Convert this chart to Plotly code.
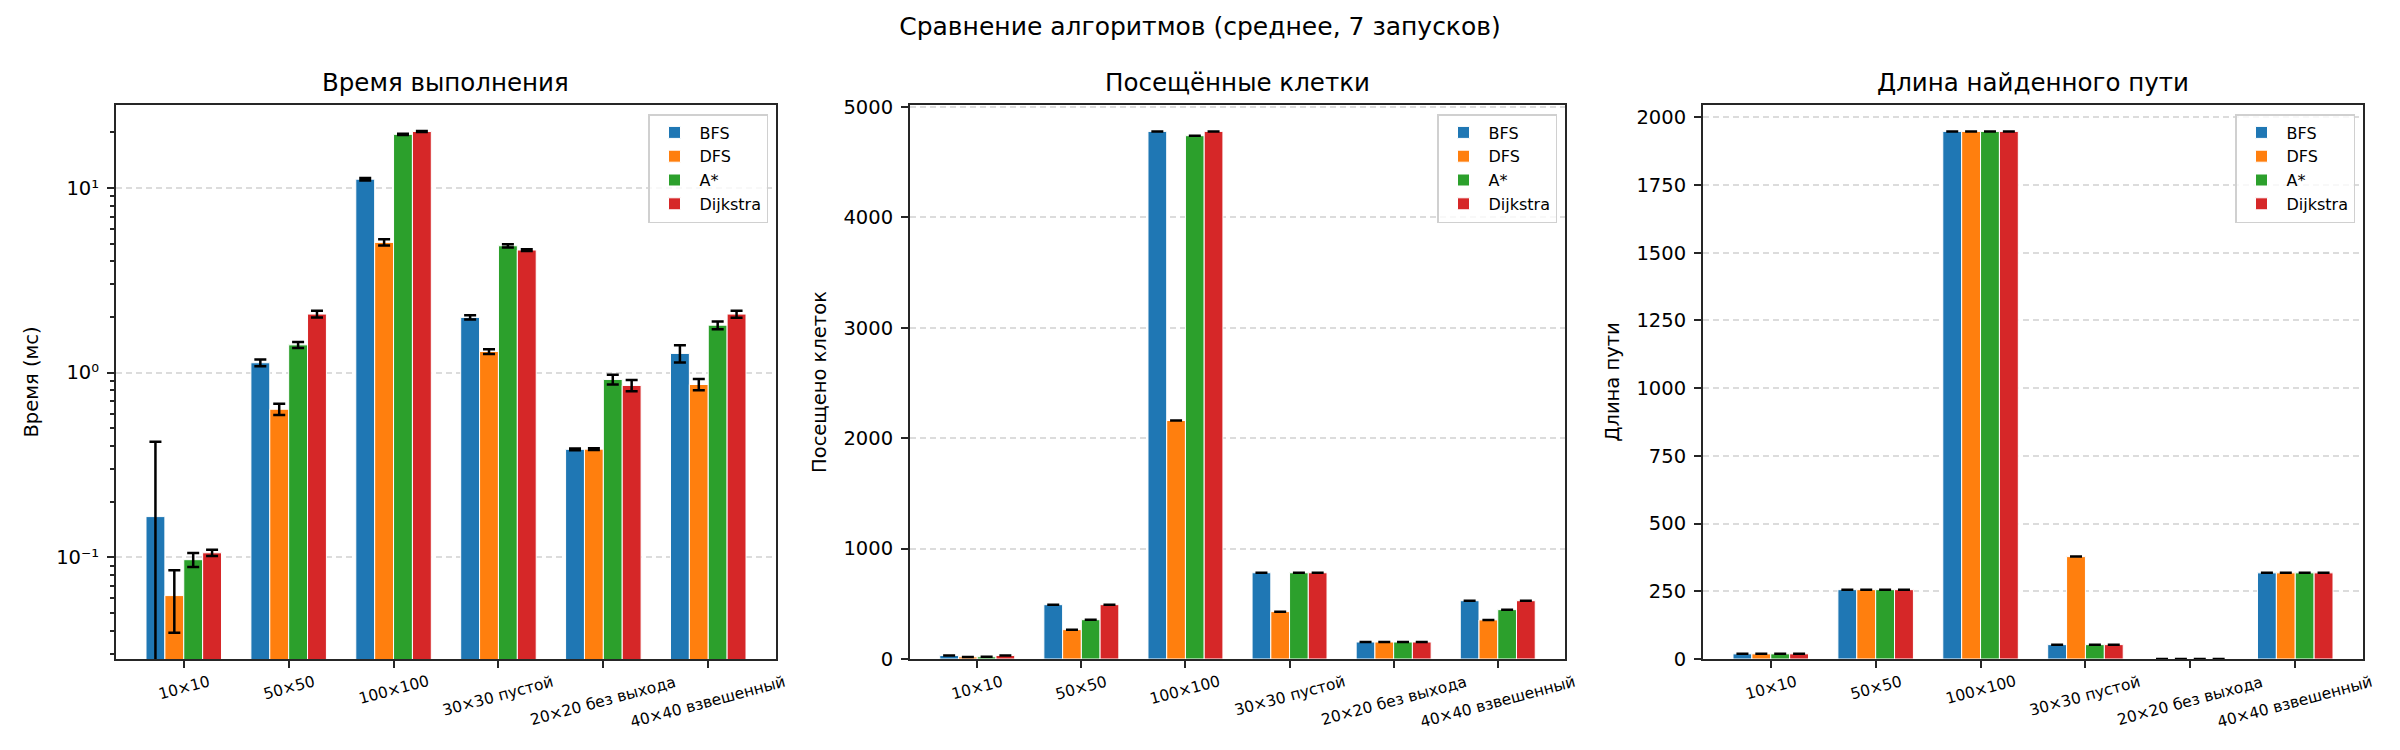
import plotly.graph_objects as go
from plotly.subplots import make_subplots

# Scenario names and algorithms
categories = ["10×10", "50×50", "100×100", "30×30 пустой", "20×20 без выхода", "40×40 взвешенный"]
algorithms = ["BFS", "DFS", "A*", "Dijkstra"]
colors = ["#1f77b4", "#ff7f0e", "#2ca02c", "#d62728"]

# Execution time, ms (mean and std over 7 runs)
time_bfs = [0.166, 1.13, 11.15, 1.99, 0.384, 1.27]
time_dfs = [0.062, 0.633, 5.07, 1.30, 0.385, 0.862]
time_astar = [0.097, 1.413, 19.5, 4.86, 0.918, 1.806]
time_dijkstra = [0.1057, 2.074, 20.2, 4.61, 0.852, 2.074]
time_std_bfs = [0.256, 0.048, 0.18, 0.053, 0.004, 0.135]
time_std_dfs = [0.023, 0.044, 0.2, 0.038, 0.004, 0.06]
time_std_astar = [0.0085, 0.053, 0.15, 0.1, 0.056, 0.087]
time_std_dijkstra = [0.004, 0.088, 0.15, 0.05, 0.06, 0.09]

# Visited cells
visited_bfs = [32, 492, 4779, 781, 154, 528]
visited_dfs = [19, 266, 2160, 429, 154, 354]
visited_astar = [20, 356, 4740, 781, 154, 447]
visited_dijkstra = [32, 492, 4779, 781, 154, 528]

# Found path length
path_bfs = [19, 256, 1948, 53, 0, 318]
path_dfs = [19, 256, 1948, 378, 0, 318]
path_astar = [19, 256, 1948, 53, 0, 318]
path_dijkstra = [19, 256, 1948, 53, 0, 318]

# Log axis ticks for the time panel
time_tickvals = [0.1, 1, 10]
time_ticktext = ["10⁻¹", "10⁰", "10¹"]
time_minor = [0.03, 0.04, 0.05, 0.06, 0.07, 0.08, 0.09,
              0.2, 0.3, 0.4, 0.5, 0.6, 0.7, 0.8, 0.9,
              2, 3, 4, 5, 6, 7, 8, 9, 20]

FONT = "DejaVu Sans"
AXIS_COLOR = "#262626"

# the page body has an 8px margin, so the figure is a bit smaller than the window
W, H, PAD = 2384, 734, 8


def fx(px):
    return (px - PAD) / W


def fy(py):
    return 1 - (py - PAD) / H


panels = [
    ("Время выполнения", "Время (мс)",
     [time_bfs, time_dfs, time_astar, time_dijkstra],
     [time_std_bfs, time_std_dfs, time_std_astar, time_std_dijkstra]),
    ("Посещённые клетки", "Посещено клеток",
     [visited_bfs, visited_dfs, visited_astar, visited_dijkstra],
     [[0] * 6] * 4),
    ("Длина найденного пути", "Длина пути",
     [path_bfs, path_dfs, path_astar, path_dijkstra],
     [[0] * 6] * 4),
]

fig = make_subplots(rows=1, cols=3)

x_pixels = [(116, 776), (910, 1565), (1703, 2363)]
annotations = []

for p, (title, ylabel, series, errors) in enumerate(panels):
    col = p + 1
    legend_name = "legend" if p == 0 else "legend%d" % col
    for a, name in enumerate(algorithms):
        fig.add_trace(
            go.Bar(x=categories, y=series[a], name=name,
                   marker=dict(color=colors[a], line=dict(color="white", width=1)),
                   error_y=dict(type="data", array=errors[a], visible=True,
                                color="black", thickness=2.5, width=6),
                   legend=legend_name),
            row=1, col=col)

    xref = "x" if p == 0 else "x%d" % col
    yref = "y" if p == 0 else "y%d" % col

    # Subplot title
    annotations.append(dict(text=title, xref=xref + " domain", yref=yref + " domain",
                            x=0.5, y=1, xanchor="center", yanchor="bottom", yshift=6,
                            showarrow=False, font=dict(size=24.5, color="black", family=FONT)))
    # Rotated category labels, centred under the ticks
    for c in categories:
        annotations.append(dict(text=c, xref=xref, yref=yref + " domain",
                                x=c, y=0, xanchor="center", yanchor="top", yshift=-11,
                                textangle=-15, showarrow=False,
                                font=dict(size=15.5, color="black", family=FONT)))

    left, right = x_pixels[p]
    fig.update_xaxes(domain=[fx(left), fx(right)], type="category", range=[-0.646, 5.646],
                     showline=True, linecolor=AXIS_COLOR, linewidth=2, mirror=True,
                     ticks="outside", ticklen=7, tickwidth=2, tickcolor=AXIS_COLOR,
                     showticklabels=False, showgrid=False, zeroline=False, automargin=False,
                     row=1, col=col)
    fig.update_yaxes(domain=[fy(659), fy(105)],
                     showline=True, linecolor=AXIS_COLOR, linewidth=2, mirror=True,
                     ticks="outside", ticklen=7, tickwidth=2, tickcolor=AXIS_COLOR,
                     ticklabelstandoff=4, automargin=False,
                     tickfont=dict(size=19.5, color="black", family=FONT),
                     showgrid=True, gridcolor="#dcdcdc", gridwidth=1.5, griddash="6px,4px",
                     zeroline=False,
                     title=dict(text=ylabel, font=dict(size=19.5, color="black", family=FONT),
                                standoff=12),
                     row=1, col=col)

    fig.layout[legend_name] = dict(
        x=fx(right - 8), y=fy(114), xanchor="right", yanchor="top",
        bgcolor="rgba(255,255,255,0.8)", bordercolor="#d0d0d0", borderwidth=1.5,
        font=dict(size=16, color="black", family=FONT),
        itemwidth=40, tracegroupgap=2)

# Panel specific y axes
fig.update_yaxes(type="log", range=[-1.551, 1.449], tickmode="array",
                 tickvals=time_tickvals, ticktext=time_ticktext,
                 minor=dict(ticks="outside", ticklen=4, tickwidth=1.5, tickcolor=AXIS_COLOR,
                            tickmode="array", tickvals=time_minor, showgrid=False),
                 row=1, col=1)
top2 = max(max(s) for s in panels[1][2]) * 1.05
top3 = max(max(s) for s in panels[2][2]) * 1.05
fig.update_yaxes(range=[0, top2], dtick=1000, row=1, col=2)
fig.update_yaxes(range=[0, top3], dtick=250, row=1, col=3)

fig.update_layout(
    width=W, height=H,
    margin=dict(l=0, r=0, t=0, b=0),
    paper_bgcolor="white", plot_bgcolor="white",
    barmode="group", bargap=0.28, bargroupgap=0,
    title=dict(text="Сравнение алгоритмов (среднее, 7 запусков)",
               x=0.5, xanchor="center", y=fy(26), yanchor="middle",
               font=dict(size=25, color="black", family=FONT)),
    font=dict(family=FONT, color="black"),
    annotations=annotations,
)

fig.write_html("out.html")
